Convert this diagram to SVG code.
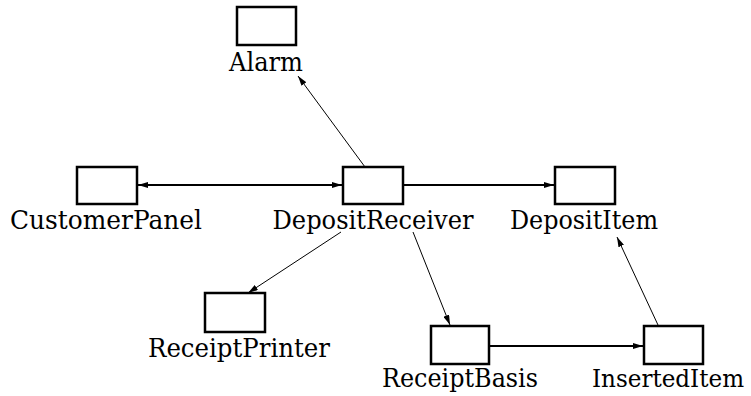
<svg xmlns="http://www.w3.org/2000/svg" width="751" height="396" viewBox="0 0 751 396">
  <style>
    .box { fill: #fff; stroke: #000; stroke-width: 2.5; }
    .lbl { font-family: "DejaVu Serif", "Liberation Serif", serif; font-size: 26px; fill: #000; text-anchor: middle; }
    .edge { font-size: 24px; }
    .thick { stroke: #000; stroke-width: 2; fill: none; }
    .thin { stroke: #000; stroke-width: 1; fill: none; }
  </style>
  <defs>
    <marker id="arr" viewBox="0 0 10 6" refX="10" refY="3" markerWidth="10" markerHeight="6" markerUnits="userSpaceOnUse" orient="auto-start-reverse">
      <path d="M0,0 L10,3 L0,6 Z" fill="#000"/>
    </marker>
  </defs>

  <g id="connectors">
    <line class="thin" x1="365" y1="167" x2="298" y2="76" marker-end="url(#arr)"/>
    <line class="thick" x1="138" y1="185" x2="342" y2="185" marker-start="url(#arr)" marker-end="url(#arr)"/>
    <line class="thick" x1="404" y1="185" x2="554" y2="185" marker-end="url(#arr)"/>
    <line class="thin" x1="341" y1="232" x2="248" y2="293" marker-end="url(#arr)"/>
    <line class="thin" x1="413" y1="232" x2="450" y2="325" marker-end="url(#arr)"/>
    <line class="thick" x1="490" y1="346" x2="643" y2="346" marker-end="url(#arr)"/>
    <line class="thin" x1="658" y1="325" x2="617" y2="237" marker-end="url(#arr)"/>
  </g>

  <g id="Alarm">
    <rect class="box" x="237" y="7" width="59" height="38"/>
    <text class="lbl" x="266" y="71" textLength="74" lengthAdjust="spacingAndGlyphs">Alarm</text>
  </g>
  <g id="CustomerPanel">
    <rect class="box" x="77" y="167" width="60" height="37"/>
    <text class="lbl" x="106" y="229" textLength="192" lengthAdjust="spacingAndGlyphs">CustomerPanel</text>
  </g>
  <g id="DepositReceiver">
    <rect class="box" x="343" y="167" width="60" height="37"/>
    <text class="lbl" x="373" y="229" textLength="201" lengthAdjust="spacingAndGlyphs">DepositReceiver</text>
  </g>
  <g id="DepositItem">
    <rect class="box" x="555" y="167" width="60" height="37"/>
    <text class="lbl" x="584" y="229" textLength="148" lengthAdjust="spacingAndGlyphs">DepositItem</text>
  </g>
  <g id="ReceiptPrinter">
    <rect class="box" x="205" y="293" width="60" height="39"/>
    <text class="lbl" x="239" y="357" textLength="182" lengthAdjust="spacingAndGlyphs">ReceiptPrinter</text>
  </g>
  <g id="ReceiptBasis">
    <rect class="box" x="431" y="326" width="58" height="38"/>
    <text class="lbl" x="460" y="387" textLength="156" lengthAdjust="spacingAndGlyphs">ReceiptBasis</text>
  </g>
  <g id="InsertedItem">
    <rect class="box" x="644" y="326" width="59" height="38"/>
    <text class="lbl edge" x="668" y="387" textLength="152" lengthAdjust="spacingAndGlyphs">InsertedItem</text>
  </g>
</svg>
